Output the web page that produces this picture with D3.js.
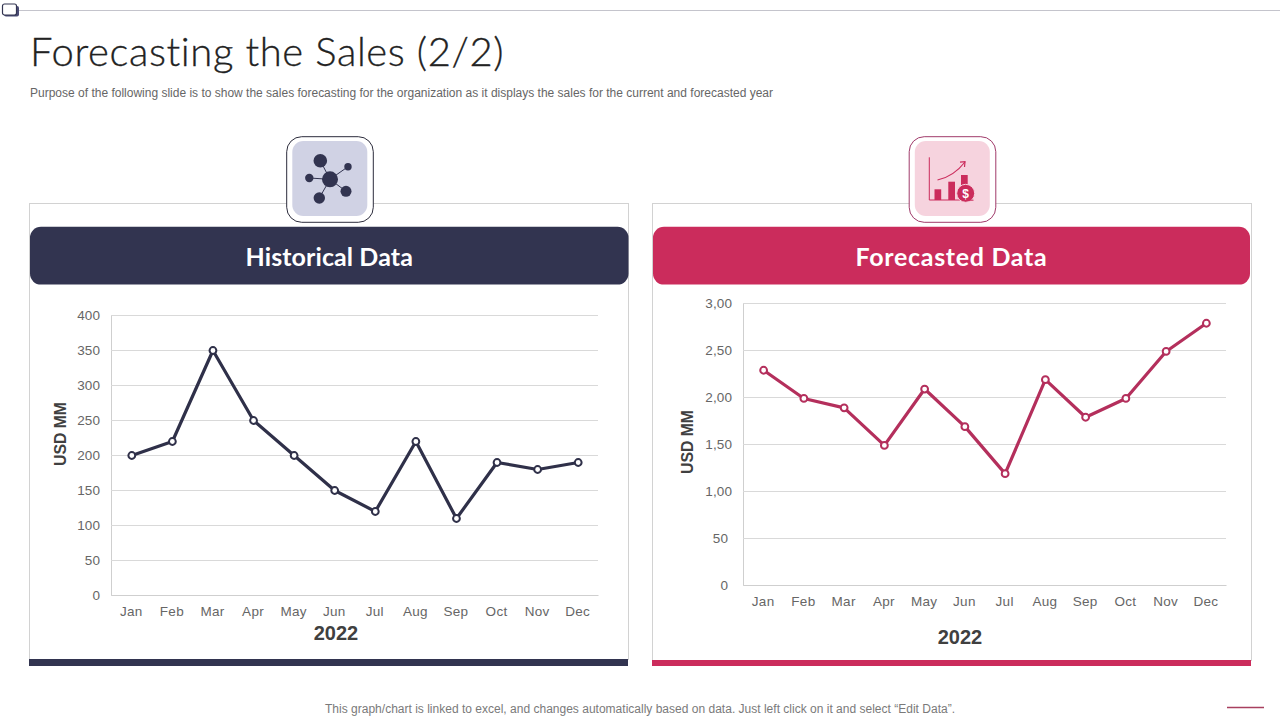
<!DOCTYPE html>
<html>
<head>
<meta charset="utf-8">
<script src="https://cdn.jsdelivr.net/npm/d3@7"></script>
<style>
  html, body { margin: 0; padding: 0; background: #fff; }
  svg { display: block; }
  text { font-family: "Liberation Sans", sans-serif; }
</style>
</head>
<body>
<svg id="slide" width="1280" height="720"></svg>
<script>
const MONTHS = ['Jan', 'Feb', 'Mar', 'Apr', 'May', 'Jun', 'Jul', 'Aug', 'Sep', 'Oct', 'Nov', 'Dec'];

const HISTORICAL = [200, 220, 350, 250, 200, 150, 120, 220, 110, 190, 180, 190];
const HISTORICAL_TICKS = [0, 50, 100, 150, 200, 250, 300, 350, 400];

const FORECAST = [2.29, 1.99, 1.89, 1.49, 2.09, 1.69, 1.19, 2.19, 1.79, 1.99, 2.49, 2.79];
const FORECAST_TICKS = [0, 0.5, 1, 1.5, 2, 2.5, 3];
const FORECAST_LABELS = ['0', '50', '1,00', '1,50', '2,00', '2,50', '3,00'];

const NAVY = '#323450';
const RED = '#cb2c5c';

const svg = d3.select('#slide');

// Header
svg.append('line').attr('x1', 18).attr('x2', 1280).attr('y1', 10.5).attr('y2', 10.5)
  .attr('stroke', '#c4c4cc').attr('stroke-width', 1);
svg.append('rect').attr('x', 4).attr('y', 6).attr('width', 15).attr('height', 10.5).attr('rx', 2)
  .attr('fill', '#4b4c75');
svg.append('rect').attr('x', 2.5).attr('y', 4).attr('width', 14).attr('height', 11).attr('rx', 2)
  .attr('fill', '#fff').attr('stroke', NAVY).attr('stroke-width', 1.2);

svg.append('text').attr('x', 30).attr('y', 66)
  .style('font-family', 'Lato').style('font-weight', 300)
  .style('font-size', '40px').style('letter-spacing', '0.6px')
  .attr('fill', '#222').attr('stroke', '#222').attr('stroke-width', 0.3)
  .text('Forecasting the Sales (2/2)');

svg.append('text').attr('x', 30).attr('y', 97)
  .style('font-size', '12px').attr('fill', '#666').attr('textLength', 743)
  .text('Purpose of the following slide is to show the sales forecasting for the organization as it displays the sales for the current and forecasted year');

svg.append('text').attr('x', 640).attr('y', 713).attr('text-anchor', 'middle')
  .style('font-size', '12px').attr('fill', '#7a7a7a').attr('textLength', 630)
  .text('This graph/chart is linked to excel, and changes automatically based on data. Just left click on it and select \u201cEdit Data\u201d.');

svg.append('line').attr('x1', 1227).attr('x2', 1264).attr('y1', 707.5).attr('y2', 707.5)
  .attr('stroke', '#a8405f').attr('stroke-width', 1.4);

function drawPanel(cfg) {
  const g = svg.append('g');

  // Card outline and bottom bar
  g.append('rect').attr('x', cfg.card[0] + 0.5).attr('y', 203.5)
    .attr('width', cfg.card[1] - cfg.card[0]).attr('height', cfg.barY - 203)
    .attr('fill', '#fff').attr('stroke', '#d2d2d2');
  g.append('rect').attr('x', cfg.card[0]).attr('y', cfg.barY)
    .attr('width', cfg.card[1] - cfg.card[0]).attr('height', cfg.barH).attr('fill', cfg.color);

  // Header banner
  g.append('rect').attr('x', cfg.banner[0]).attr('y', 226.8)
    .attr('width', cfg.banner[1] - cfg.banner[0]).attr('height', 57.8).attr('rx', 11)
    .attr('fill', cfg.color);
  g.append('text').attr('x', (cfg.banner[0] + cfg.banner[1]) / 2).attr('y', 266)
    .attr('text-anchor', 'middle').attr('fill', '#fff')
    .style('font-family', 'Lato').style('font-weight', 700).style('font-size', '25px')
    .style('letter-spacing', cfg.titleSpacing)
    .text(cfg.title);

  // Scales
  const x = d3.scaleBand().domain(MONTHS).range(cfg.xRange);
  const y = d3.scaleLinear().domain(cfg.domain).range(cfg.yRange);
  const px = (d, i) => x(MONTHS[i]) + x.bandwidth() / 2 + 0.5;
  const py = d => y(d) + 0.5;

  const grid = d3.axisLeft(y).tickValues(cfg.ticks).tickSize(-(cfg.xRange[1] - cfg.xRange[0]))
    .tickFormat((d, i) => cfg.labels[i]).tickPadding(11);
  const yAxis = g.append('g').attr('transform', `translate(${cfg.xRange[0]},0)`).call(grid);
  yAxis.select('.domain').attr('stroke', '#cfcfcf');
  yAxis.selectAll('.tick line').attr('stroke', '#d9d9d9');
  yAxis.selectAll('.tick text').attr('fill', '#666')
    .style('font-size', '13.5px').style('letter-spacing', '0.1px')
    .attr('dx', d => d < cfg.smallBelow ? -4 : 0);

  const xAxis = g.append('g').attr('transform', `translate(0,${cfg.yRange[0]})`)
    .call(d3.axisBottom(x).tickSize(0).tickPadding(11));
  xAxis.select('.domain').attr('stroke', '#cfcfcf');
  xAxis.selectAll('.tick text').attr('fill', '#666')
    .style('font-size', '13.5px').style('letter-spacing', '0.3px');

  // Axis titles
  g.append('text').attr('transform', `translate(${cfg.yTitleX},${cfg.yTitleY}) rotate(-90)`)
    .attr('text-anchor', 'middle').attr('fill', '#404040')
    .style('font-size', '15.8px').style('font-weight', 700).text('USD MM');
  g.append('text').attr('x', cfg.xTitle[0]).attr('y', cfg.xTitle[1])
    .attr('text-anchor', 'middle').attr('fill', '#404040')
    .style('font-size', '20px').style('font-weight', 700).text('2022');

  // Line and markers
  const line = d3.line().x(px).y(py);
  g.append('path').datum(cfg.values).attr('d', line).attr('fill', 'none')
    .attr('stroke', cfg.lineColor).attr('stroke-width', 3.2).attr('stroke-linejoin', 'round');
  g.selectAll('circle.pt').data(cfg.values).enter().append('circle').attr('class', 'pt')
    .attr('cx', px).attr('cy', py).attr('r', 3.4)
    .attr('fill', '#fff').attr('stroke', cfg.lineColor).attr('stroke-width', 2);

  // Icon tile
  const icon = g.append('g').attr('transform', `translate(${cfg.iconX},180)`);
  icon.append('rect').attr('x', -43.3).attr('y', -43.3).attr('width', 86.6).attr('height', 85.6).attr('rx', 15)
    .attr('fill', '#fff').attr('stroke', cfg.iconStroke);
  icon.append('rect').attr('x', -37.7).attr('y', -39).attr('width', 75).attr('height', 75).attr('rx', 11)
    .attr('fill', cfg.iconFill);
  cfg.drawIcon(icon);
}

function networkIcon(icon) {
  const hub = [0, -0.7];
  const nodes = [[-9.7, -19.3, 6.8], [18, -13.3, 3.7], [-20.7, -2, 4.2], [16, 11.3, 5.5], [-10.7, 18, 5.7]];
  nodes.forEach(n => {
    icon.append('line').attr('x1', hub[0]).attr('y1', hub[1]).attr('x2', n[0]).attr('y2', n[1])
      .attr('stroke', NAVY).attr('stroke-width', 1);
    icon.append('circle').attr('cx', n[0]).attr('cy', n[1]).attr('r', n[2]).attr('fill', NAVY);
  });
  icon.append('circle').attr('cx', hub[0]).attr('cy', hub[1]).attr('r', 8).attr('fill', NAVY);
}

function moneyIcon(icon) {
  icon.append('path').attr('d', 'M-23.2,-22.7V20H9').attr('fill', 'none').attr('stroke', RED).attr('stroke-width', 1);
  [[-18, 9.3, 6.7, 10.7], [-4.2, 1.7, 6.7, 18.3], [8.5, -5, 6.7, 12]].forEach(b => {
    icon.append('rect').attr('x', b[0]).attr('y', b[1]).attr('width', b[2]).attr('height', b[3]).attr('fill', RED);
  });
  icon.append('path').attr('d', 'M-15,0Q1,-3.3 12.5,-18').attr('fill', 'none').attr('stroke', RED).attr('stroke-width', 1.2);
  icon.append('path').attr('d', 'M7.5,-17.8L12.5,-18.3L12,-13').attr('fill', 'none').attr('stroke', RED).attr('stroke-width', 1.2);
  icon.append('circle').attr('cx', 13.2).attr('cy', 13.3).attr('r', 9).attr('fill', RED).attr('stroke', '#f6d3de').attr('stroke-width', 1);
  icon.append('line').attr('x1', 17).attr('x2', 21).attr('y1', 20.2).attr('y2', 20.2).attr('stroke', RED);
  icon.append('text').attr('x', 13.2).attr('y', 17.7).attr('text-anchor', 'middle').attr('fill', '#fff')
    .style('font-size', '12px').style('font-weight', 700).text('$');
}

drawPanel({
  title: 'Historical Data', titleSpacing: '0.1px', color: NAVY, lineColor: '#2f3049', values: HISTORICAL,
  card: [29, 628], barY: 659, barH: 7, banner: [30, 628.5],
  xRange: [111, 598], yRange: [595, 315], domain: [0, 400],
  ticks: HISTORICAL_TICKS, labels: HISTORICAL_TICKS.map(String), smallBelow: 0,
  yTitleX: 66, yTitleY: 434, xTitle: [336, 640],
  iconX: 330, iconStroke: '#2c2c3c', iconFill: '#d0d2e4', drawIcon: networkIcon
});

drawPanel({
  title: 'Forecasted Data', titleSpacing: '0.7px', color: RED, lineColor: '#b42f5c', values: FORECAST,
  card: [652, 1251], barY: 660, barH: 6, banner: [653, 1250],
  xRange: [743, 1226], yRange: [585, 303], domain: [0, 3],
  ticks: FORECAST_TICKS, labels: FORECAST_LABELS, smallBelow: 1,
  yTitleX: 693, yTitleY: 442, xTitle: [960, 644],
  iconX: 952.5, iconStroke: '#a03a6a', iconFill: '#f6d3de', drawIcon: moneyIcon
});
</script>
</body>
</html>
